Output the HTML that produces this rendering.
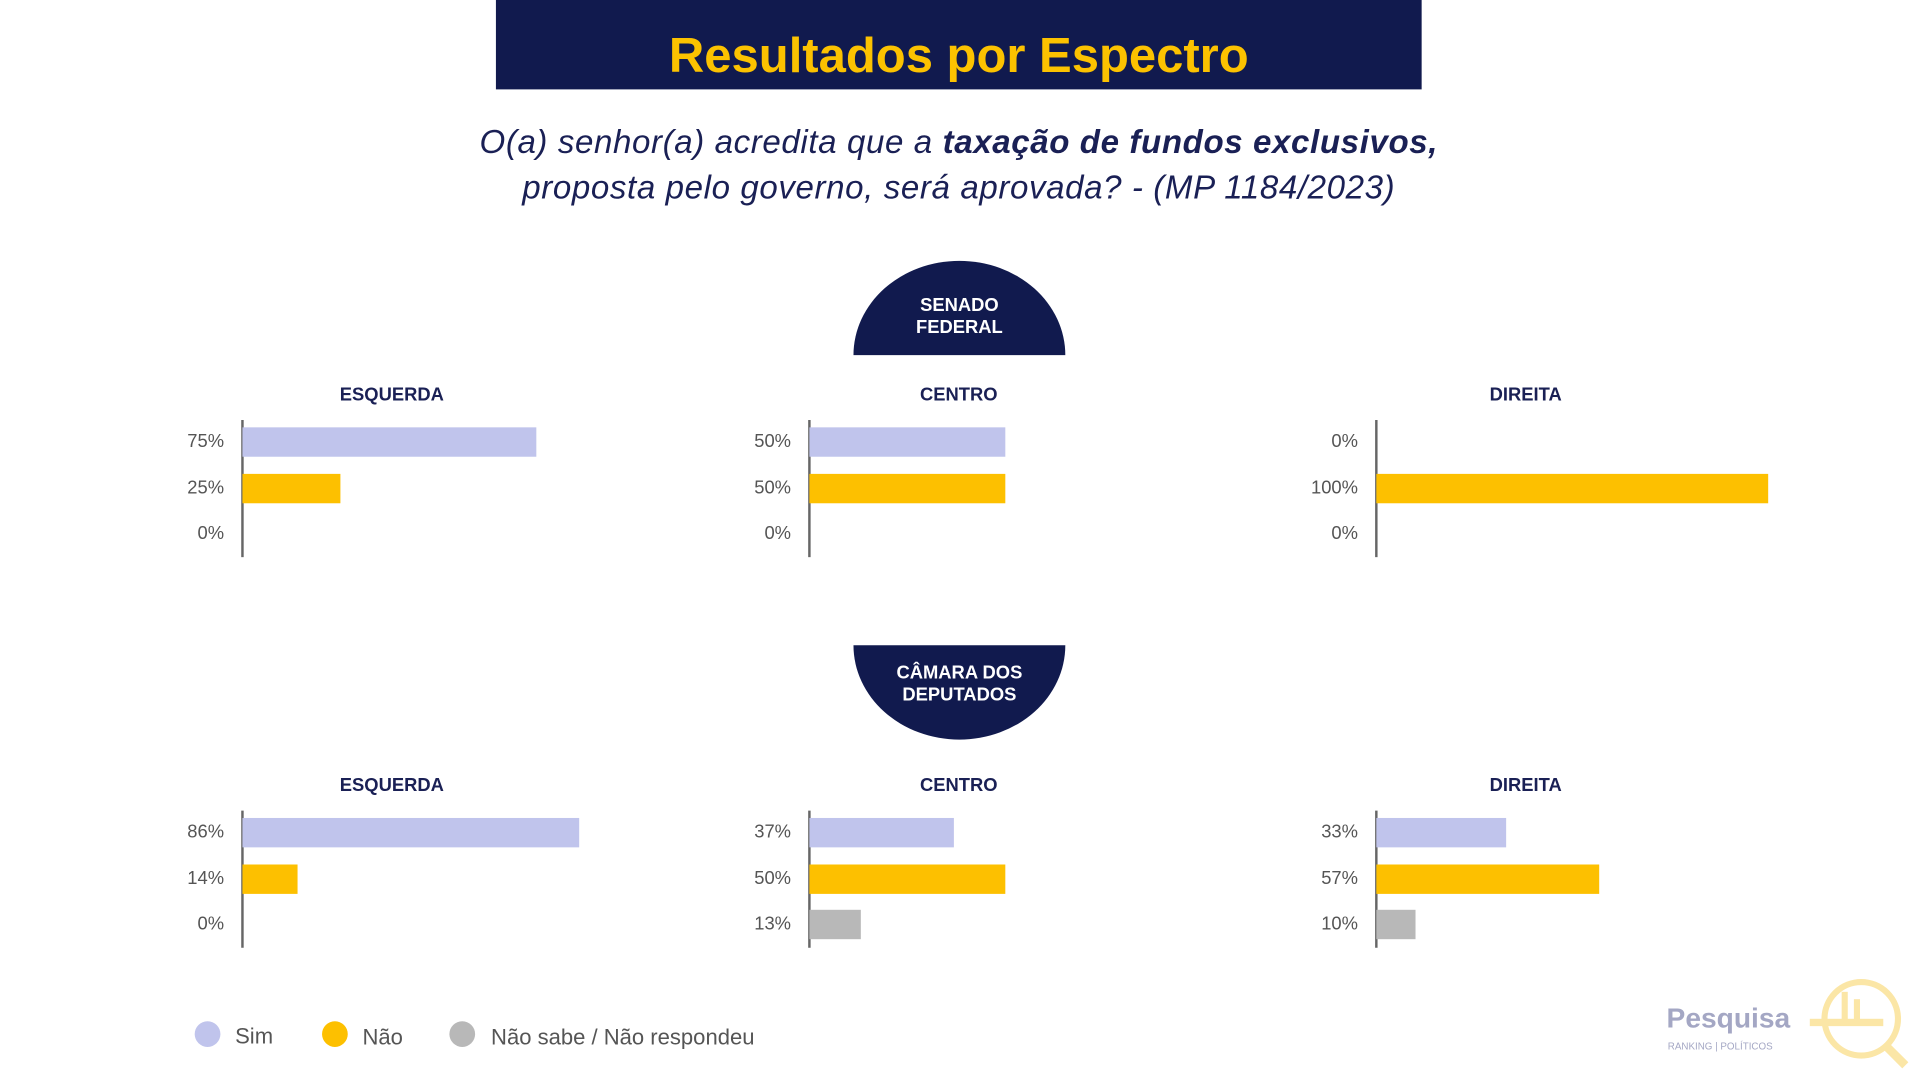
<!DOCTYPE html>
<html><head><meta charset="utf-8">
<style>
html,body{margin:0;padding:0;width:1920px;height:1080px;overflow:hidden;background:#fff}
#stage{position:absolute;left:0;top:0;width:1568px;height:882px;transform:scale(1.2245);transform-origin:0 0;font-family:"Liberation Sans",sans-serif}
.abs{position:absolute}
#banner{left:405px;top:0;width:756px;height:73px;background:#111a4e;color:#fcc200;font-weight:bold;font-size:40px;text-align:center;line-height:92px}
#question{left:200px;top:98px;width:1166px;text-align:center;color:#1a2055;font-style:italic;font-size:27px;line-height:37px;letter-spacing:0.5px}
.dome{width:173px;height:77px;background:#111a4e;color:#fff;font-weight:bold;font-size:15px;text-align:center;display:flex;align-items:center;justify-content:center;line-height:18px}
.ptitle{color:#1a2055;font-weight:bold;font-size:15px;text-align:center;width:200px}
.lbl{color:#555;font-size:15px;text-align:right;width:60px}
.axis{width:1.5px;background:#666}
.leg{font-size:18px;color:#555}
.dot{width:21px;height:21px;border-radius:50%}
</style></head><body>
<div id="stage">
<div id="banner" class="abs">Resultados por Espectro</div>
<div id="question" class="abs">O(a) senhor(a) acredita que a <b>taxação de fundos exclusivos,</b><br>proposta pelo governo, será aprovada? - (MP 1184/2023)</div>
<div class="abs dome" style="left:697px;top:213px;border-radius:50% 50% 0 0/100% 100% 0 0;padding-top:14px;box-sizing:border-box">SENADO<br>FEDERAL</div>
<div class="abs dome" style="left:697px;top:527px;border-radius:0 0 50% 50%/0 0 100% 100%;padding-bottom:14px;box-sizing:border-box">CÂMARA DOS<br>DEPUTADOS</div>
<div class="abs dot" style="left:159px;top:834px;background:#c0c4ec"></div>
<div class="abs leg" style="left:192px;top:836px">Sim</div>
<div class="abs dot" style="left:263px;top:834px;background:#fdc000"></div>
<div class="abs leg" style="left:296px;top:837px">Não</div>
<div class="abs dot" style="left:367px;top:834px;background:#b8b8b8"></div>
<div class="abs leg" style="left:401px;top:837px">Não sabe / Não respondeu</div>
<div class="abs" style="left:1361px;top:818px;font-size:23px;font-weight:bold;color:#a4a7c4">Pesquisa</div>
<div class="abs" style="left:1362px;top:850px;font-size:8px;color:#a4a7c4">RANKING | POLÍTICOS</div>
<svg class="abs" style="left:1476px;top:796px" width="84" height="80">
<circle cx="44" cy="36" r="30" fill="none" stroke="#fbe6a6" stroke-width="5"/>
<line x1="64" y1="58" x2="80" y2="74" stroke="#fbe6a6" stroke-width="7"/>
<rect x="2" y="36" width="60" height="6" fill="#fbe6a6"/>
<rect x="28" y="14" width="5" height="26" fill="#fbe6a6"/><rect x="38" y="20" width="5" height="20" fill="#fbe6a6"/>
</svg>
</div>
<script>
const panelTitles=["ESQUERDA","CENTRO","DIREITA"];
const senadoSim=[75,50,0];
const senadoNao=[25,50,100];
const senadoNS=[0,0,0];
const camaraSim=[86,37,33];
const camaraNao=[14,50,57];
const camaraNS=[0,13,10];
const colors=["#c0c4ec","#fdc000","#b8b8b8"];
const axisX=[197,660,1123];
const scale=v=>v*3.2;
const stage=document.getElementById('stage');
function mk(cls,style,txt){const d=document.createElement('div');d.className='abs '+cls;d.setAttribute('style',style);if(txt!=null)d.textContent=txt;stage.appendChild(d);return d;}
function group(top,series,gname){
  for(let p=0;p<3;p++){
    const x=axisX[p];
    const t=mk('ptitle',`left:${x+123-100}px;top:${top}px`,panelTitles[p]);
    
    
    const a=mk('axis',`left:${x}px;top:${top+29}px;height:112px`);
    
    
    for(let s=0;s<3;s++){
      const v=series[s][p];
      const cy=top+47+s*37.5;
      const l=mk('lbl',`left:${x-74}px;top:${cy-9}px`,v+'%');
      
      
      if(v>0){
        const b=mk('',`left:${x+1}px;top:${cy-12}px;width:${scale(v)}px;height:24px;background:${colors[s]}`);
        
        
      }
    }
  }
}
group(314,[senadoSim,senadoNao,senadoNS],'senado');
group(633,[camaraSim,camaraNao,camaraNS],'camara');
</script>
</body></html>
